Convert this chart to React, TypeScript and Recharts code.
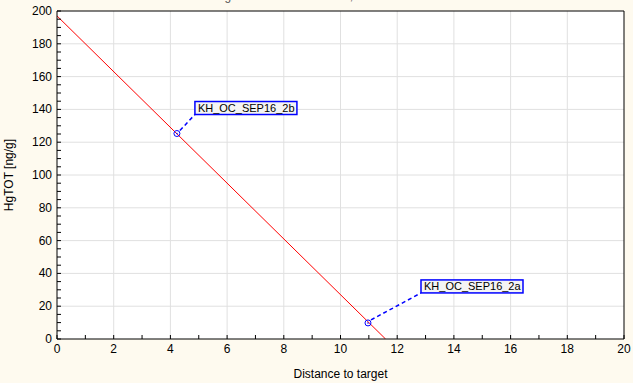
import React from 'react';
import { ComposedChart, Line, Scatter, XAxis, YAxis, ReferenceLine, CartesianGrid } from 'recharts';

// axis ticks (minor + labelled)
const xTicks = [0, 1, 2, 3, 4, 5, 6, 7, 8, 9, 10, 11, 12, 13, 14, 15, 16, 17, 18, 19, 20];
const xGrid = [2, 4, 6, 8, 10, 12, 14, 16, 18];
const yTicks = [0, 5, 10, 15, 20, 25, 30, 35, 40, 45, 50, 55, 60, 65, 70, 75, 80, 85, 90, 95, 100,
  105, 110, 115, 120, 125, 130, 135, 140, 145, 150, 155, 160, 165, 170, 175, 180, 185, 190, 195, 200];
const yGrid = [20, 40, 60, 80, 100, 120, 140, 160, 180];

// fitted regression line end points
const fitLine = [
  { d: 0, hg: 197 },
  { d: 11.59, hg: 0 },
];

// labelled samples
const samples = [
  { d: 4.23, hg: 125.3, name: 'KH_OC_SEP16_2b' },
  { d: 10.97, hg: 9.8, name: 'KH_OC_SEP16_2a' },
];

// where each callout box sits relative to its point (px)
const calloutOffset: Record<string, { dx: number; dy: number }> = {
  KH_OC_SEP16_2b: { dx: 18, dy: -19 },
  KH_OC_SEP16_2a: { dx: 53, dy: -30 },
};

const BLUE = '#0000ff';
const FONT = 12;

const BottomTick = ({ x, y, payload }: any) => (
  <g>
    <line x1={x} x2={x} y1={y} y2={y - 4} stroke="#000" />
    {payload.value % 2 === 0 && (
      <text x={x} y={y + 14} textAnchor="middle" fontSize={FONT} fill="#000">{payload.value}</text>
    )}
  </g>
);

const TopTick = ({ x, y }: any) => <line x1={x} x2={x} y1={y} y2={y + 4} stroke="#000" />;

const LeftTick = ({ x, y, payload }: any) => (
  <g>
    <line x1={x} x2={x + 4} y1={y} y2={y} stroke="#000" />
    {payload.value % 20 === 0 && (
      <text x={x - 5} y={y + 4} textAnchor="end" fontSize={FONT} fill="#000">{payload.value}</text>
    )}
  </g>
);

const RightTick = ({ x, y }: any) => <line x1={x} x2={x - 4} y1={y} y2={y} stroke="#000" />;

const SampleMarker = (props: any) => {
  const { cx, cy, payload } = props;
  const off = calloutOffset[payload.name];
  const bx = cx + off.dx;
  const by = cy + off.dy;
  return (
    <g>
      <line x1={cx + 3} y1={cy - 3} x2={bx} y2={by} stroke={BLUE} strokeWidth={1.5} strokeDasharray="4 3" />
      <circle cx={cx} cy={cy} r={3} fill="none" stroke={BLUE} strokeWidth={1} />
      <circle cx={cx} cy={cy} r={0.8} fill={BLUE} />
      <rect x={bx} y={by - 13} width={102} height={13} fill="#f4f4f4" stroke={BLUE} strokeWidth={1.5} />
      <text x={bx + 3} y={by - 3} fontSize={11} fill="#000">{payload.name}</text>
    </g>
  );
};

export default function App() {
  return (
    <div style={{ position: 'fixed', left: 0, top: 0, width: 633, height: 383, background: '#fefaef', fontFamily: '"Liberation Sans", Arial, sans-serif' }}>
      <ComposedChart width={633} height={383} margin={{ top: 0, right: 0, bottom: 0, left: 0 }}>
        <CartesianGrid xAxisId="b" yAxisId="l" horizontal={false} vertical={false} fill="#ffffff" />
        <XAxis xAxisId="b" type="number" dataKey="d" domain={[0, 20]} ticks={xTicks} interval={0}
          height={44} tickSize={0} tickMargin={0} tickLine={false} stroke="#000" tick={<BottomTick />}
          allowDataOverflow
          label={{ value: 'Distance to target', position: 'insideBottom', offset: 5, fontSize: FONT, fill: '#000' }} />
        <XAxis xAxisId="t" orientation="top" type="number" domain={[0, 20]} ticks={xTicks} interval={0}
          height={11} tickSize={0} tickMargin={0} tickLine={false} stroke="#000" tick={<TopTick />}
          label={{
            content: () => (
              <text x={312} y={0} textAnchor="middle" fontSize={FONT} fill="#555">HgTOT = 196.9 - 17.0 * x; r = -1.000</text>
            ),
          }} />
        <YAxis yAxisId="l" type="number" dataKey="hg" domain={[0, 200]} ticks={yTicks} interval={0}
          width={57} tickSize={0} tickMargin={0} tickLine={false} stroke="#000" tick={<LeftTick />}
          allowDataOverflow
          label={{
            content: (p: any) => {
              const vb = p.viewBox || { x: 0, y: 11, height: 328 };
              const cy = vb.y + vb.height / 2;
              return (
                <text x={13} y={cy} transform={`rotate(-90 13 ${cy})`} textAnchor="middle" fontSize={FONT} fill="#000">
                  HgTOT [ng/g]
                </text>
              );
            },
          }} />
        <YAxis yAxisId="r" orientation="right" type="number" domain={[0, 200]} ticks={yTicks} interval={0}
          width={9} tickSize={0} tickMargin={0} tickLine={false} stroke="#000" tick={<RightTick />} />
        {xGrid.map((v) => (
          <ReferenceLine key={`gx${v}`} xAxisId="b" yAxisId="l" x={v} stroke="#e0e0e0" />
        ))}
        {yGrid.map((v) => (
          <ReferenceLine key={`gy${v}`} xAxisId="b" yAxisId="l" y={v} stroke="#e0e0e0" />
        ))}
        <Line xAxisId="b" yAxisId="l" data={fitLine} dataKey="hg" type="linear" stroke="#ff0000"
          strokeWidth={1} dot={false} activeDot={false} isAnimationActive={false} />
        <Scatter xAxisId="b" yAxisId="l" data={samples} dataKey="hg" shape={<SampleMarker />}
          isAnimationActive={false} />
      </ComposedChart>
    </div>
  );
}
